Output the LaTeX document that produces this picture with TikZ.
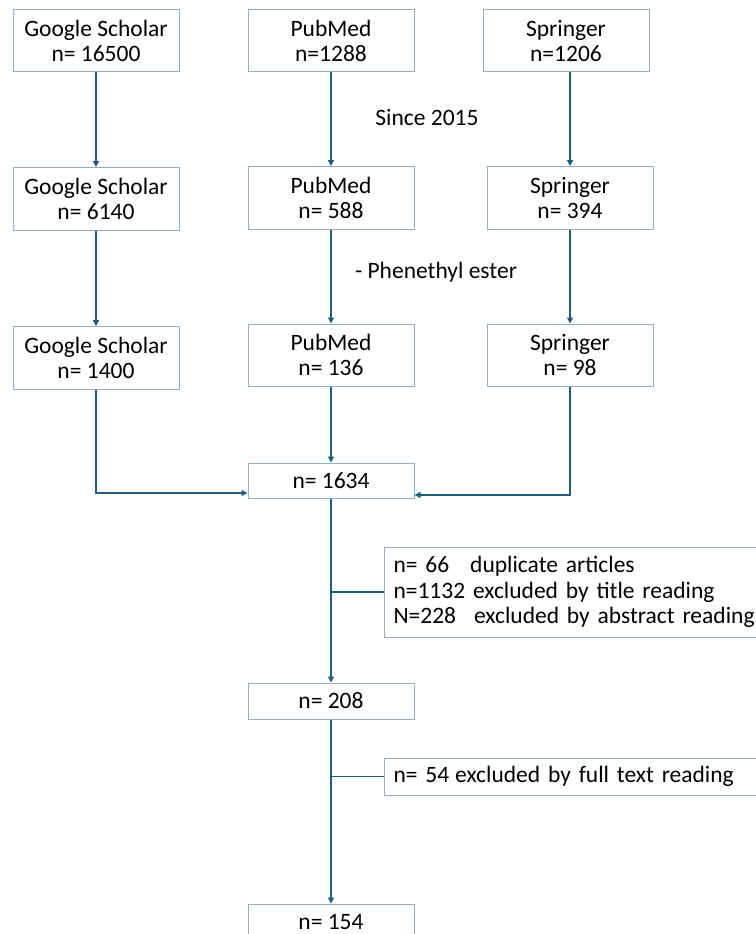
\documentclass[tikz,border=0pt]{standalone}
\usepackage{fontspec}
\setmainfont{Carlito}
\usetikzlibrary{arrows.meta,positioning}
\definecolor{boxline}{RGB}{140,176,202}
\definecolor{linkblue}{RGB}{32,92,124}

\begin{document}
\begin{tikzpicture}[x=1pt, y=-1pt,
    every node/.style={
        font=\fontsize{23.5}{25.5}\selectfont,
        inner sep=2pt
    },
    box/.style={
        rectangle,
        draw=boxline,
        line width=1pt,
        fill=white,
        align=center,
        minimum width=166pt
    },
    exclbox/.style={
        rectangle,
        draw=boxline,
        line width=1pt,
        fill=white,
        align=left,
        anchor=west,
        text width=372pt,
        inner xsep=9pt
    },
    flow/.style={
        draw=linkblue,
        line width=1.3pt,
        -{Triangle[length=6pt,width=6pt]}
    },
    branch/.style={
        draw=linkblue,
        line width=1.3pt
    }
]
    \useasboundingbox (0,0) rectangle (755,934);

    % first search
    \node (scholar_all) [box, minimum height=62pt] at (96,41)
    {
        Google Scholar\\n= 16500
    };
    \node (pubmed_all) [box, minimum height=62pt] at (331,41)
    {
        PubMed\\n=1288
    };
    \node (springer_all) [box, minimum height=62pt] at (566,41)
    {
        Springer\\n=1206
    };

    % since 2015
    \node (scholar_2015) [box, minimum height=63pt] at (96,199)
    {
        Google Scholar\\n= 6140
    };
    \node (pubmed_2015) [box, minimum height=63pt] at (331,198)
    {
        PubMed\\n= 588
    };
    \node (springer_2015) [box, minimum height=63pt] at (570,198)
    {
        Springer\\n= 394
    };

    % phenethyl ester
    \node (scholar_ester) [box, minimum height=63pt] at (96,358)
    {
        Google Scholar\\n= 1400
    };
    \node (pubmed_ester) [box, minimum height=62pt] at (331,355)
    {
        PubMed\\n= 136
    };
    \node (springer_ester) [box, minimum height=62pt] at (570,355)
    {
        Springer\\n= 98
    };

    \node (since_label) at (427,117) {Since 2015};
    \node (ester_label) at (436,272) {- Phenethyl ester};

    % screening
    \node (merged) [box, minimum height=35pt] at (331,480.5) {n= 1634};
    \node (excluded_first) [exclbox, minimum height=90pt] at (384,592)
    {
        n= 66\hspace{21pt}duplicate articles\\
        n=1132 excluded by title reading\\
        N=228\hspace{18pt}excluded by abstract reading
    };
    \node (fulltext_check) [box, minimum height=36pt] at (331,701) {n= 208};
    \node (excluded_second) [exclbox, minimum height=37pt] at (384,776.5)
    {
        n= 54\hspace{6pt}excluded by full text reading
    };
    \node (included) [box, minimum height=36pt] at (331,922) {n= 154};

    \draw[flow] (scholar_all) to (scholar_2015);
    \draw[flow] (pubmed_all) to (pubmed_2015);
    \draw[flow] (springer_all.south -| springer_2015.north) to (springer_2015.north);
    \draw[flow] (scholar_2015) to (scholar_ester);
    \draw[flow] (pubmed_2015) to (pubmed_ester);
    \draw[flow] (springer_2015) to (springer_ester);

    \draw[flow] (scholar_ester.south) |- ([yshift=-12.5pt]merged.west);
    \draw[flow] (pubmed_ester) to (merged);
    \draw[flow] (springer_ester.south) |- ([yshift=-14.5pt]merged.east);

    \draw[flow] (merged) to (fulltext_check);
    \draw[branch] (excluded_first.west -| merged.south) to (excluded_first.west);
    \draw[flow] (fulltext_check) to (included);
    \draw[branch] (excluded_second.west -| fulltext_check.south) to (excluded_second.west);
\end{tikzpicture}
\end{document}
